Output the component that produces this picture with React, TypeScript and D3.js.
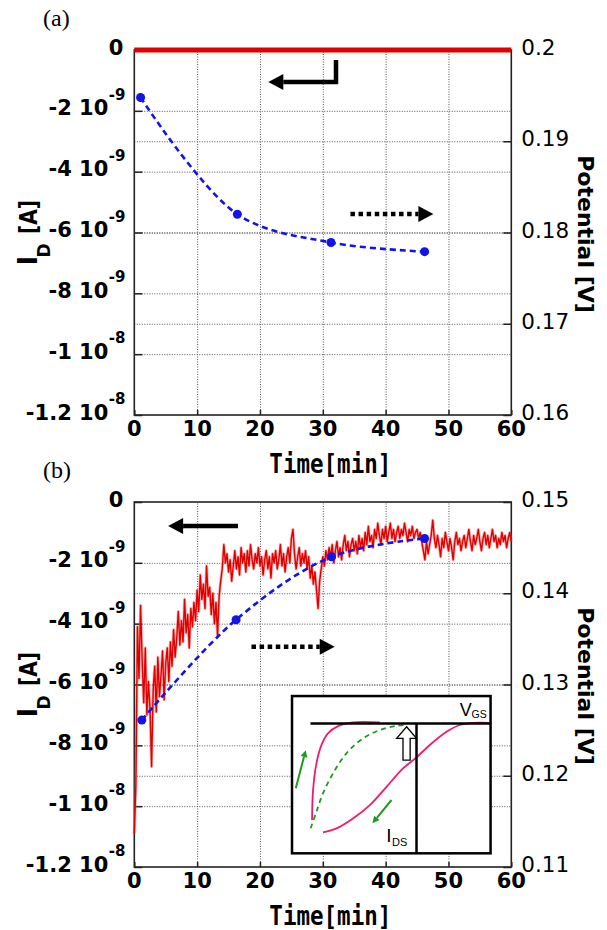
import React, { useEffect, useRef } from "react";
import * as d3 from "d3";

// axis ticks
const TIME_TICKS = [0, 10, 20, 30, 40, 50, 60];
const ID_TICKS = [0, -2, -4, -6, -8, -10, -12]; // in 1e-9 A
const ID_TICK_MANT = ["0", "-2 10", "-4 10", "-6 10", "-8 10", "-1 10", "-1.2 10"];
const ID_TICK_EXP = ["", "-9", "-9", "-9", "-9", "-8", "-8"];
const POT_TICKS_A = [0.2, 0.19, 0.18, 0.17, 0.16];
const POT_TICKS_B = [0.15, 0.14, 0.13, 0.12, 0.11];

// panel (a)
const ID_A_TIME = [0, 10, 20, 30, 40, 50, 60];
const ID_A = [0, 0, 0, 0, 0, 0, 0];
const POT_A_TIME = [1, 16.4, 31.3, 46.2];
const POT_A = [0.1948, 0.182, 0.1789, 0.1779];

// panel (b), I_D sampled every 0.25 min (1e-9 A)
const ID_B_STEP = 0.25;
const ID_B = [
  -10.9, -9.3, -4.1, -5.8, -3.4, -5.2, -6.6, -4.8, -7.0, -5.9, -6.8, -8.7, -6.2, -5.4, -6.9, -5.1, -6.4, -5.7, -4.9, -6.5,
  -5.3, -4.8, -5.9, -4.6, -5.4, -4.2, -5.1, -4.5, -3.6, -4.7, -3.9, -4.6, -3.2, -4.3, -3.7, -4.8, -3.5, -4.1, -3.3, -3.9,
  -2.9, -3.6, -2.4, -3.2, -2.7, -3.5, -2.1, -3.1, -2.8, -3.7, -3.0, -4.0, -3.3, -4.4, -3.1, -2.6, -2.2, -1.4, -2.0, -1.7,
  -2.3, -1.9, -2.6, -2.1, -1.6, -2.2, -1.8, -2.4, -1.5, -2.0, -1.7, -2.3, -1.6, -2.1, -1.4, -1.9, -2.2, -1.7, -2.0, -1.5,
  -2.1, -1.8, -2.4, -1.9, -1.6, -2.2, -1.8, -2.5, -1.7, -2.0, -1.6, -2.2, -1.9, -1.4, -2.1, -1.7, -2.3, -1.8, -1.5, -2.0,
  -1.2, -0.9, -1.7, -2.2, -1.8, -1.5, -2.1, -1.7, -2.0, -1.6, -2.2, -1.8, -2.5, -2.1, -2.7, -2.3, -2.9, -3.5, -2.6, -2.2,
  -1.8, -2.1, -1.6, -1.9, -1.5, -1.8, -1.4, -2.0, -1.6, -1.3, -1.8, -1.5, -1.9, -1.4, -1.1, -1.6, -1.3, -1.8, -1.4, -1.2,
  -1.6, -1.3, -1.7, -1.1, -1.5, -1.2, -1.6, -1.0, -1.4, -0.8, -1.3, -1.1, -1.5, -0.9, -1.2, -0.7, -1.1, -1.4, -0.9, -1.2,
  -0.8, -1.3, -1.0, -0.7, -1.2, -0.9, -1.3, -1.0, -0.8, -1.2, -0.9, -1.1, -0.7, -1.0, -1.3, -0.9, -1.1, -0.8, -1.2, -1.0,
  -0.9, -1.2, -1.0, -1.3, -1.6, -1.9, -1.3, -1.7, -1.4, -1.1, -0.6, -1.2, -1.5, -1.1, -1.4, -1.8, -1.2, -1.5, -1.0, -1.3,
  -1.6, -1.2, -1.5, -1.9, -1.3, -1.0, -1.4, -1.2, -1.6, -1.3, -1.1, -1.5, -1.2, -0.9, -1.3, -1.6, -1.1, -1.4, -1.2, -0.9,
  -1.3, -1.6, -1.2, -1.0, -1.4, -1.1, -1.5, -1.2, -0.9, -1.3, -1.1, -1.5, -1.2, -1.4, -1.0, -1.3, -1.1, -1.5, -1.2, -1.0,
  -1.3,
];
const POT_B_TIME = [1.2, 16.2, 31.4, 46.2];
const POT_B = [0.1261, 0.1371, 0.144, 0.146];

// inset schematic (unit box coords)
const INSET_PINK_FAST = [[0.101, 0.788], [0.106, 0.598], [0.123, 0.428], [0.148, 0.312], [0.181, 0.237], [0.232, 0.191], [0.307, 0.167], [0.442, 0.167]];
const INSET_PINK_SLOW = [[0.156, 0.867], [0.224, 0.841], [0.307, 0.778], [0.392, 0.693], [0.476, 0.577], [0.559, 0.46], [0.627, 0.39], [0.694, 0.311], [0.778, 0.227], [0.845, 0.184], [0.912, 0.17], [0.997, 0.17]];
const INSET_GREEN = [[0.094, 0.841], [0.123, 0.736], [0.156, 0.619], [0.207, 0.491], [0.274, 0.364], [0.358, 0.269], [0.442, 0.216], [0.526, 0.189], [0.577, 0.184]];

const W = 607, H = 930;
const PLOT_X = 134.3, PLOT_W = 377, PLOT_H = 365;
const SANS = "DejaVu Sans";

function arrow(g: any, pts: number[][], dotted: boolean, width = 4.5, headLen = 15, headHalf = 8, color = "#000") {
  const n = pts.length;
  const [x2, y2] = pts[n - 1];
  const [x1, y1] = pts[n - 2];
  const ang = Math.atan2(y2 - y1, x2 - x1);
  const bx = x2 - headLen * Math.cos(ang), by = y2 - headLen * Math.sin(ang);
  const shaft = pts.slice(0, n - 1).concat([[bx, by]]);
  g.append("path")
    .attr("d", d3.line()(shaft as any))
    .attr("fill", "none")
    .attr("stroke", color)
    .attr("stroke-width", width)
    .attr("stroke-dasharray", dotted ? "4.5,3.6" : null);
  g.append("path")
    .attr("d", `M${x2},${y2}L${bx - headHalf * Math.sin(ang)},${by + headHalf * Math.cos(ang)}L${bx + headHalf * Math.sin(ang)},${by - headHalf * Math.cos(ang)}Z`)
    .attr("fill", color);
}

function drawPanel(svg: any, cfg: any) {
  const top = cfg.top;
  const x = d3.scaleLinear().domain([0, 60]).range([PLOT_X, PLOT_X + PLOT_W]);
  const yL = d3.scaleLinear().domain([-12, 0]).range([top + PLOT_H, top]);
  const yR = d3.scaleLinear().domain([cfg.potTicks[4], cfg.potTicks[0]]).range([top + PLOT_H, top]);
  const g = svg.append("g");

  // dotted grid
  const grid = g.append("g");
  grid.append("g")
    .attr("transform", `translate(0,${top + PLOT_H})`)
    .call(d3.axisBottom(x).tickValues(TIME_TICKS.slice(1, -1)).tickSize(-PLOT_H).tickFormat(() => ""));
  grid.append("g")
    .attr("transform", `translate(${PLOT_X},0)`)
    .call(d3.axisLeft(yL).tickValues(ID_TICKS.slice(1, -1)).tickSize(-PLOT_W).tickFormat(() => ""));
  grid.append("g")
    .attr("transform", `translate(${PLOT_X},0)`)
    .call(d3.axisLeft(yR).tickValues(cfg.potTicks.slice(1, -1)).tickSize(-PLOT_W).tickFormat(() => ""));
  grid.selectAll(".domain").remove();
  grid.selectAll("line")
    .attr("stroke", "#555")
    .attr("stroke-width", 1)
    .attr("stroke-dasharray", "1,1.5");

  // inward ticks
  const ticks = g.append("g");
  ticks.append("g").attr("transform", `translate(${PLOT_X},0)`)
    .call(d3.axisRight(yL).tickValues(ID_TICKS).tickSize(8).tickFormat(() => ""));
  ticks.append("g").attr("transform", `translate(${PLOT_X + PLOT_W},0)`)
    .call(d3.axisLeft(yR).tickValues(cfg.potTicks).tickSize(8).tickFormat(() => ""));
  ticks.append("g").attr("transform", `translate(0,${top + PLOT_H})`)
    .call(d3.axisTop(x).tickValues(TIME_TICKS).tickSize(5).tickFormat(() => ""));
  ticks.selectAll(".domain").remove();
  ticks.selectAll("line").attr("stroke", "#222").attr("stroke-width", 1.5);

  // frame
  g.append("rect")
    .attr("x", PLOT_X).attr("y", top).attr("width", PLOT_W).attr("height", PLOT_H)
    .attr("fill", "none").attr("stroke", "#222").attr("stroke-width", 1.6);

  // red I_D trace (a soft halo under it to mimic the dense raw trace)
  const idLine = d3.line<number>()
    .x((d, i) => x(cfg.idTime[i]))
    .y((d) => yL(d));
  if (cfg.halo) {
    g.append("path")
      .attr("d", idLine(cfg.id))
      .attr("fill", "none")
      .attr("stroke", "#f05050")
      .attr("stroke-opacity", 0.45)
      .attr("stroke-width", 3)
      .attr("stroke-linejoin", "round");
  }
  g.append("path")
    .attr("d", idLine(cfg.id))
    .attr("fill", "none")
    .attr("stroke", "#e00000")
    .attr("stroke-width", cfg.idWidth)
    .attr("stroke-linejoin", "round");

  // blue potential
  const potLine = d3.line<number>()
    .x((d, i) => x(cfg.potTime[i]))
    .y((d) => yR(d))
    .curve(d3.curveCatmullRom.alpha(0.5));
  g.append("path")
    .attr("d", potLine(cfg.pot))
    .attr("fill", "none")
    .attr("stroke", "#1414e6")
    .attr("stroke-width", 2.6)
    .attr("stroke-dasharray", "6,4");
  g.selectAll("circle.pt")
    .data(cfg.pot)
    .join("circle")
    .attr("class", "pt")
    .attr("cx", (d: number, i: number) => x(cfg.potTime[i]))
    .attr("cy", (d: number) => yR(d))
    .attr("r", 4.5)
    .attr("fill", "#1414e6");

  // direction arrows
  const ann = g.append("g");
  arrow(ann, cfg.solidArrow.map((p: number[]) => [x(p[0]), yL(p[1])]), false);
  arrow(ann, cfg.dotArrow.map((p: number[]) => [x(p[0]), yL(p[1])]), true);

  // left tick labels
  ID_TICKS.forEach((v, i) => {
    const isZero = ID_TICK_EXP[i] === "";
    g.append("text")
      .attr("x", isZero ? PLOT_X - 11 : PLOT_X - 26)
      .attr("y", yL(v) + 4.5)
      .attr("text-anchor", "end")
      .style("font-family", SANS).style("font-weight", "bold").style("font-size", "21px")
      .text(ID_TICK_MANT[i]);
    if (!isZero) {
      g.append("text")
        .attr("x", PLOT_X - 25.5)
        .attr("y", yL(v) - 11)
        .style("font-family", SANS).style("font-weight", "bold").style("font-size", "15px")
        .text(ID_TICK_EXP[i]);
    }
  });

  // right tick labels
  cfg.potTicks.forEach((v: number) => {
    g.append("text")
      .attr("x", PLOT_X + PLOT_W + 10)
      .attr("y", yR(v) + 5)
      .style("font-family", SANS).style("font-size", "21.5px")
      .text(String(v));
  });

  // bottom tick labels
  TIME_TICKS.forEach((t) => {
    g.append("text")
      .attr("x", x(t))
      .attr("y", top + PLOT_H + 21)
      .attr("text-anchor", "middle")
      .style("font-family", SANS).style("font-weight", "bold").style("font-size", "21px")
      .text(String(t));
  });

  // axis titles
  g.append("text")
    .attr("x", x(31.2))
    .attr("y", top + PLOT_H + 58)
    .attr("text-anchor", "middle")
    .attr("textLength", 122)
    .attr("lengthAdjust", "spacingAndGlyphs")
    .style("font-family", "DejaVu Sans Mono").style("font-weight", "bold").style("font-size", "26px")
    .text("Time[min]");

  g.append("text")
    .attr("transform", `translate(578,${top + PLOT_H / 2 + 1.5}) rotate(90)`)
    .attr("text-anchor", "middle")
    .style("font-family", SANS).style("font-weight", "bold").style("font-size", "22px")
    .text("Potential [V]");

  const yl = g.append("g").style("font-family", SANS).style("font-weight", "bold");
  yl.append("text")
    .attr("transform", `translate(37,${top + 215.5}) rotate(-90)`)
    .style("font-size", "26px")
    .text("I");
  yl.append("text")
    .attr("transform", `translate(49.5,${top + 207.5}) rotate(-90)`)
    .style("font-size", "17px")
    .text("D");
  yl.append("text")
    .attr("transform", `translate(37,${top + 184}) rotate(-90)`)
    .attr("textLength", 34)
    .attr("lengthAdjust", "spacingAndGlyphs")
    .style("font-size", "24px")
    .text("[A]");

  // panel letter
  g.append("text")
    .attr("x", 43)
    .attr("y", top - 24.5)
    .style("font-family", "Liberation Serif").style("font-size", "24px")
    .text(cfg.letter);

  return { g, x, yL };
}

function drawInset(g: any, x: any, yL: any) {
  const u = d3.scaleLinear().domain([0, 1]).range([x(25.1), x(56.7)]);
  const v = d3.scaleLinear().domain([0, 1]).range([yL(-6.38), yL(-11.55)]);
  const ins = g.append("g");
  ins.append("rect")
    .attr("x", u(0)).attr("y", v(0)).attr("width", u(1) - u(0)).attr("height", v(1) - v(0))
    .attr("fill", "#fff").attr("stroke", "#000").attr("stroke-width", 2.5);

  const curve = d3.line<number[]>().x((d) => u(d[0])).y((d) => v(d[1])).curve(d3.curveCatmullRom.alpha(0.5));
  ins.append("path").attr("d", curve(INSET_GREEN)).attr("fill", "none")
    .attr("stroke", "#1f9a1f").attr("stroke-width", 1.8).attr("stroke-dasharray", "5,4");
  [INSET_PINK_FAST, INSET_PINK_SLOW].forEach((c) => {
    ins.append("path").attr("d", curve(c)).attr("fill", "none")
      .attr("stroke", "#f2196f").attr("stroke-width", 1.8);
  });

  // V_GS and I_DS axes
  ins.append("line").attr("x1", u(0.093)).attr("x2", u(1)).attr("y1", v(0.174)).attr("y2", v(0.174))
    .attr("stroke", "#000").attr("stroke-width", 2.5);
  ins.append("line").attr("x1", u(0.627)).attr("x2", u(0.627)).attr("y1", v(0.174)).attr("y2", v(1))
    .attr("stroke", "#000").attr("stroke-width", 2.5);

  // white block arrow
  const cx = 0.577, hw = 0.05, sw = 0.018;
  const blk = [[cx, 0.195], [cx + hw, 0.269], [cx + sw, 0.269], [cx + sw, 0.407], [cx - sw, 0.407], [cx - sw, 0.269], [cx - hw, 0.269]];
  ins.append("path")
    .attr("d", d3.line()(blk.map((p) => [u(p[0]), v(p[1])]) as any) + "Z")
    .attr("fill", "#fff").attr("stroke", "#000").attr("stroke-width", 1.3);

  // green sweep arrows
  arrow(ins, [[u(0.019), v(0.587)], [u(0.069), v(0.344)]], false, 2, 7, 3.5, "#1f9a1f");
  arrow(ins, [[u(0.501), v(0.661)], [u(0.405), v(0.809)]], false, 2, 7, 3.5, "#1f9a1f");

  const lab = ins.append("g").style("font-family", "Liberation Sans");
  lab.append("text").attr("x", u(0.845)).attr("y", v(0.127)).style("font-size", "18px").text("V");
  lab.append("text").attr("x", u(0.904)).attr("y", v(0.142)).style("font-size", "10.5px").text("GS");
  lab.append("text").attr("x", u(0.475)).attr("y", v(0.926)).style("font-size", "19px").text("I");
  lab.append("text").attr("x", u(0.504)).attr("y", v(0.952)).style("font-size", "11px").text("DS");
}

export default function App() {
  const ref = useRef<SVGSVGElement>(null);

  useEffect(() => {
    const svg = d3.select(ref.current);
    svg.selectAll("*").remove();

    drawPanel(svg, {
      top: 50,
      letter: "(a)",
      potTicks: POT_TICKS_A,
      idTime: ID_A_TIME,
      id: ID_A,
      idWidth: 5,
      halo: false,
      potTime: POT_A_TIME,
      pot: POT_A,
      solidArrow: [[32.1, -0.33], [32.1, -1.05], [21.33, -1.05]],
      dotArrow: [[34.4, -5.39], [47.6, -5.39]],
    });

    const b = drawPanel(svg, {
      top: 502,
      letter: "(b)",
      potTicks: POT_TICKS_B,
      idTime: ID_B.map((d, i) => i * ID_B_STEP),
      id: ID_B,
      idWidth: 1.4,
      halo: true,
      potTime: POT_B_TIME,
      pot: POT_B,
      solidArrow: [[16.5, -0.79], [5.38, -0.79]],
      dotArrow: [[18.65, -4.76], [31.9, -4.76]],
    });
    drawInset(b.g, b.x, b.yL);
  }, []);

  return (
    <svg
      ref={ref}
      width={W}
      height={H}
      style={{ position: "absolute", left: 0, top: 0, background: "#fff" }}
    />
  );
}
